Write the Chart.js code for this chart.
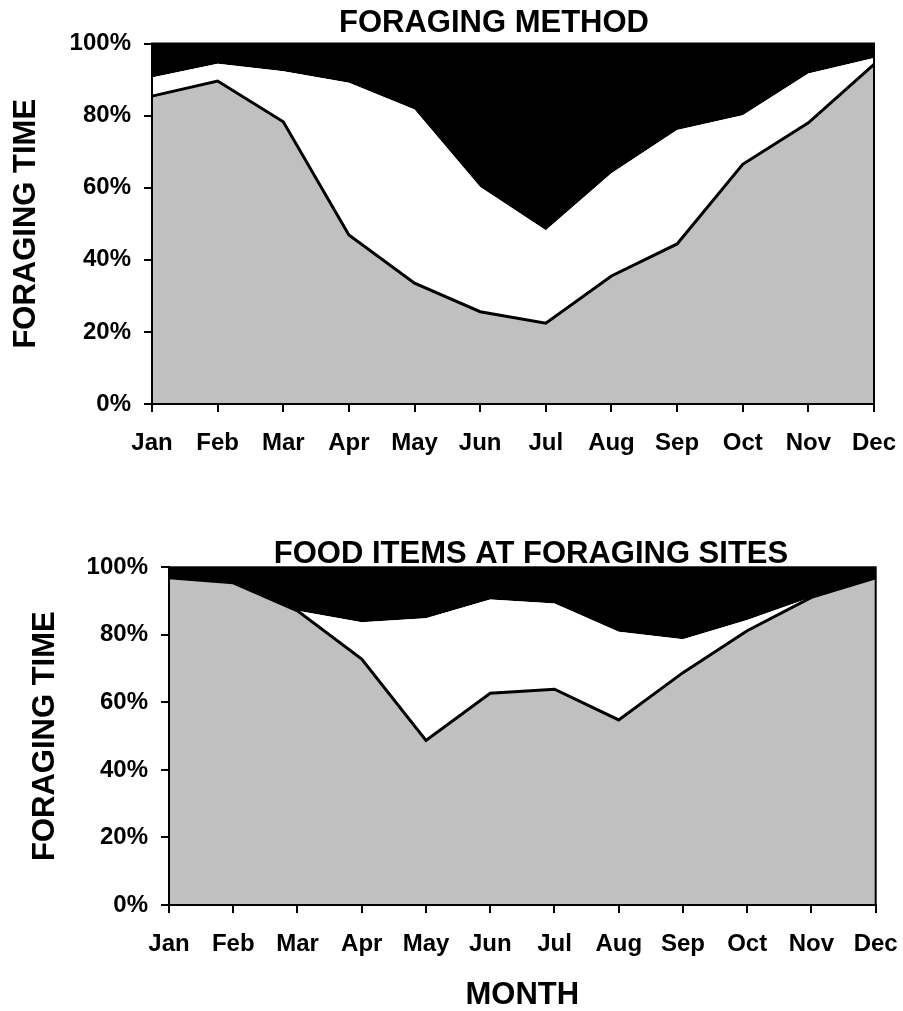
<!DOCTYPE html>
<html>
<head>
<meta charset="utf-8">
<script src="https://cdn.jsdelivr.net/npm/chart.js@4/dist/chart.umd.min.js"></script>
<style>
  body { margin: 0; background: #fff; overflow: hidden; }
  #top { position: absolute; left: 0; top: 0; }
  #bottom { position: absolute; left: 0; top: 470px; }
</style>
</head>
<body>
<canvas id="top" width="903" height="470"></canvas>
<canvas id="bottom" width="903" height="545"></canvas>
<script>
const months = ['Jan', 'Feb', 'Mar', 'Apr', 'May', 'Jun', 'Jul', 'Aug', 'Sep', 'Oct', 'Nov', 'Dec'];
const yTicks = [0, 20, 40, 60, 80, 100];

// FORAGING METHOD (% of foraging time)
const methodGray  = [85.4, 89.6, 78.3, 46.9, 33.5, 25.6, 22.4, 35.5, 44.4, 66.5, 78.0, 94.2];
const methodWhite = [5.2, 4.8, 14.0, 42.2, 48.2, 34.6, 25.8, 28.5, 31.6, 13.6, 13.7, 1.8];
const methodBlack = [9.4, 5.6, 7.7, 10.9, 18.3, 39.8, 51.8, 36.0, 24.0, 19.9, 8.3, 4.0];

// FOOD ITEMS AT FORAGING SITES
const foodGray  = [96.9, 95.4, 87.1, 72.8, 48.7, 62.7, 63.9, 54.8, 68.8, 81.2, 91.1, 96.9];
const foodWhite = [0, 0, 0, 10.9, 36.2, 27.8, 25.4, 26.1, 9.9, 3.2, 0, 0];
const foodBlack = [3.1, 4.6, 12.9, 16.3, 15.1, 9.5, 10.7, 19.1, 21.3, 15.6, 8.9, 3.1];

const fam = '"Liberation Sans", Arial, Helvetica, sans-serif';

// plot frame
const frame = {
  id: 'frame',
  afterDatasetsDraw(chart) {
    const a = chart.chartArea;
    const c = chart.ctx;
    c.save();
    c.strokeStyle = '#000';
    c.lineWidth = 2;
    c.strokeRect(a.left, a.top, a.right - a.left, a.bottom - a.top);
    c.restore();
  }
};

// chart heading
const heading = {
  id: 'heading',
  afterDraw(chart, args, opts) {
    const c = chart.ctx;
    c.save();
    c.font = 'bold 31px ' + fam;
    c.fillStyle = '#000';
    c.textAlign = 'center';
    c.textBaseline = 'middle';
    c.fillText(opts.text, opts.x, opts.y);
    c.restore();
  }
};

function makeChart(id, gray, white, black, o) {
  new Chart(document.getElementById(id), {
    type: 'line',
    data: {
      labels: months,
      datasets: [{
        data: gray,
        backgroundColor: '#c0c0c0',
        borderColor: '#000',
        borderWidth: 3,
        fill: 'origin',
        pointRadius: 0,
        tension: 0
      }, {
        data: white,
        backgroundColor: '#ffffff',
        borderWidth: 0,
        fill: '-1',
        pointRadius: 0
      }, {
        data: black,
        backgroundColor: '#000000',
        borderWidth: 0,
        fill: '-1',
        pointRadius: 0
      }]
    },
    options: {
      responsive: false,
      animation: false,
      devicePixelRatio: 1,
      layout: { padding: { left: o.padLeft, right: o.padRight, top: o.padTop, bottom: 0 } },
      plugins: {
        legend: { display: false },
        tooltip: { enabled: false },
        title: { display: false },
        heading: { text: o.title, x: o.titleX, y: o.titleY }
      },
      scales: {
        x: {
          offset: false,
          grid: { drawOnChartArea: false, drawTicks: true, tickLength: 8, color: '#000', lineWidth: 2 },
          border: { display: true, color: '#000', width: 2 },
          ticks: { color: '#000', font: { family: fam, size: 24, weight: 'bold' }, padding: 17, maxRotation: 0, autoSkip: false },
          title: {
            display: !!o.xTitle,
            text: o.xTitle || '',
            color: '#000',
            font: { family: fam, size: 31, weight: 'bold' },
            padding: { top: 0, bottom: 1 }
          },
          afterFit: s => { s.height = o.xHeight; s.paddingLeft = 0; s.paddingRight = 0; }
        },
        y: {
          stacked: true,
          min: 0,
          max: 100,
          grid: { drawOnChartArea: false, drawTicks: true, tickLength: 8, color: '#000', lineWidth: 2 },
          border: { display: true, color: '#000', width: 2 },
          ticks: {
            color: '#000',
            font: { family: fam, size: 24, weight: 'bold' },
            padding: 13,
            callback: v => v + '%'
          },
          afterBuildTicks: s => { s.ticks = yTicks.map(v => ({ value: v })); },
          title: {
            display: true,
            text: 'FORAGING TIME',
            color: '#000',
            font: { family: fam, size: 31, weight: 'bold' },
            padding: 0
          },
          afterFit: s => { s.width = o.yWidth; }
        }
      }
    },
    plugins: [frame, heading]
  });
}

makeChart('top', methodGray, methodWhite, methodBlack, {
  title: 'FORAGING METHOD', titleX: 494, titleY: 23,
  padLeft: 8, padRight: 29, padTop: 43.5,
  yWidth: 144, xHeight: 66
});

makeChart('bottom', foodGray, foodWhite, foodBlack, {
  title: 'FOOD ITEMS AT FORAGING SITES', titleX: 531, titleY: 84,
  padLeft: 26.4, padRight: 27.3, padTop: 97.3,
  yWidth: 142.6, xHeight: 110, xTitle: 'MONTH'
});
</script>
</body>
</html>
